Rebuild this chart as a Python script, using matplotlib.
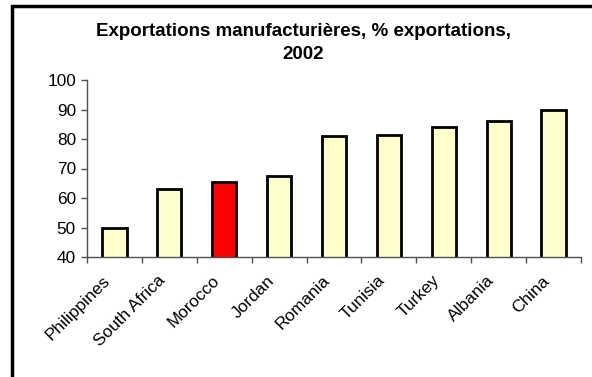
import matplotlib
matplotlib.use("Agg")
import matplotlib.pyplot as plt
import matplotlib.patches as mpatches

countries = ["Philippines", "South Africa", "Morocco", "Jordan", "Romania",
             "Tunisia", "Turkey", "Albania", "China"]
manuf_share = [50, 63, 65.5, 67.5, 81, 81.5, 84, 86, 90]
highlight = "Morocco"

plt.rcParams['font.family'] = ['Liberation Sans', 'DejaVu Sans']

W, H = 592, 377
fig = plt.figure(figsize=(W / 100, H / 100), dpi=100)
ax = fig.add_axes([87 / W, 1 - 257 / H, (581 - 87) / W, (257 - 80) / H])

colors = ["#ff0000" if c == highlight else "#ffffcc" for c in countries]
x = list(range(len(countries)))
ax.bar(x, manuf_share, width=0.44, bottom=0, color=colors,
       edgecolor="black", linewidth=2)

ax.set_xlim(-0.5, len(countries) - 0.5)
ax.set_ylim(40, 100)
ax.set_yticks(range(40, 101, 10))
ax.tick_params(axis="y", labelsize=12.4, length=4, width=1, color="#505050", pad=4)

# category ticks sit between the bars
ax.set_xticks([i - 0.5 for i in range(len(countries) + 1)])
ax.set_xticklabels([])
ax.tick_params(axis="x", length=4, width=1, color="#505050")
for i, name in enumerate(countries):
    ax.text(i - 0.22, 34.6, name, rotation=45, ha="right", va="top",
            rotation_mode="anchor", fontsize=12.4)

for side in ["top", "right"]:
    ax.spines[side].set_visible(False)
for side in ["left", "bottom"]:
    ax.spines[side].set_color("#505050")
    ax.spines[side].set_linewidth(1)

fig.text(303 / W, 1 - 43 / H, "Exportations manufacturières, % exportations,\n2002",
         ha="center", va="center", fontsize=13.5, fontweight="bold", linespacing=1.45)

# outer chart frame (runs off the right and bottom edges)
frame = mpatches.Rectangle((12 / W, -0.05), 1.0, 1 - 6 / H + 0.05,
                           transform=fig.transFigure, fill=False,
                           edgecolor="black", linewidth=2.5)
fig.patches.append(frame)

fig.savefig("out.png", dpi=100)
